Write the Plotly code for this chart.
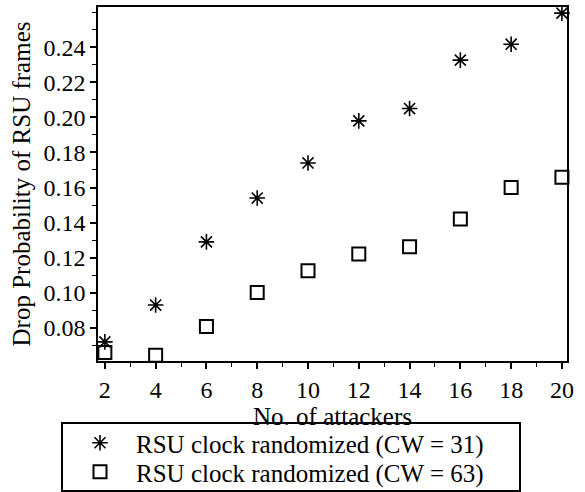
import plotly.graph_objects as go

attackers = [2, 4, 6, 8, 10, 12, 14, 16, 18, 20]
cw31 = [0.072, 0.093, 0.129, 0.154, 0.174, 0.198, 0.205, 0.2326, 0.2417, 0.2594]
cw63 = [0.0659, 0.0644, 0.0807, 0.1002, 0.1126, 0.1221, 0.1263, 0.1421, 0.160, 0.1659]
names = ["RSU clock randomized (CW = 31)", "RSU clock randomized (CW = 63)"]
y_ticks = [0.08, 0.10, 0.12, 0.14, 0.16, 0.18, 0.20, 0.22, 0.24]
x_ticks = [2, 4, 6, 8, 10, 12, 14, 16, 18, 20]

FONT = "Liberation Serif, Times New Roman, serif"

# plot-area geometry in pixels (for converting legend placement to paper units)
L, R, T, B = 98, 567, 7, 361
PW, PH = R - L, B - T


def px_x(x):
    return (x - L) / PW


def px_y(y):
    return (B - y) / PH


fig = go.Figure()
fig.add_trace(go.Scatter(
    x=attackers, y=cw31, mode="markers", name=names[0], legend="legend",
    marker=dict(symbol="asterisk-open", size=13, color="black",
                line=dict(color="black", width=1.6)),
    cliponaxis=False,
))
fig.add_trace(go.Scatter(
    x=attackers, y=cw63, mode="markers", name=names[1], legend="legend2",
    marker=dict(symbol="square-open", size=13, color="black",
                line=dict(color="black", width=2)),
    cliponaxis=False,
))

leg_common = dict(
    xanchor="left", yanchor="middle", borderwidth=0, bgcolor="rgba(0,0,0,0)",
    font=dict(family=FONT, size=25, color="black"), itemwidth=62,
)

fig.update_layout(
    width=585, height=492,
    margin=dict(l=L, r=585 - R, t=T, b=492 - B, autoexpand=False),
    paper_bgcolor="white", plot_bgcolor="white",
    font=dict(family=FONT, size=24, color="black"),
    showlegend=True,
    legend=dict(x=px_x(64), y=px_y(443), **leg_common),
    legend2=dict(x=px_x(64), y=px_y(472), **leg_common),
    shapes=[dict(type="rect", xref="paper", yref="paper",
                 x0=px_x(62), x1=px_x(520), y0=px_y(423), y1=px_y(491),
                 line=dict(color="black", width=2), fillcolor="rgba(0,0,0,0)")],
)
fig.update_xaxes(
    range=[1.73, 20.2], tickvals=x_ticks, ticktext=[str(v) for v in x_ticks],
    ticks="outside", ticklen=6, tickwidth=1.5, tickcolor="black",
    showline=True, linecolor="black", linewidth=1.5, mirror=True,
    showgrid=False, zeroline=False, automargin=True,
    minor=dict(dtick=1, tick0=1, ticks="outside", ticklen=4, tickwidth=1.2, tickcolor="black", showgrid=False),
    title=dict(text="No. of attackers", font=dict(size=25), standoff=0),
    tickfont=dict(size=24),
)
fig.update_yaxes(
    range=[0.0611, 0.2629], tickvals=y_ticks, ticktext=[f"{v:.2f}" for v in y_ticks],
    ticks="outside", ticklen=6, tickwidth=1.5, tickcolor="black",
    showline=True, linecolor="black", linewidth=1.5, mirror=True,
    showgrid=False, zeroline=False, automargin=True,
    minor=dict(dtick=0.01, tick0=0.0, ticks="outside", ticklen=4, tickwidth=1.2, tickcolor="black", showgrid=False),
    title=dict(text="Drop Probability of RSU frames", font=dict(size=25), standoff=6),
    tickfont=dict(size=24),
)

fig.write_html("out.html", config={"displayModeBar": False},
               post_script="document.body.style.margin='0';")
